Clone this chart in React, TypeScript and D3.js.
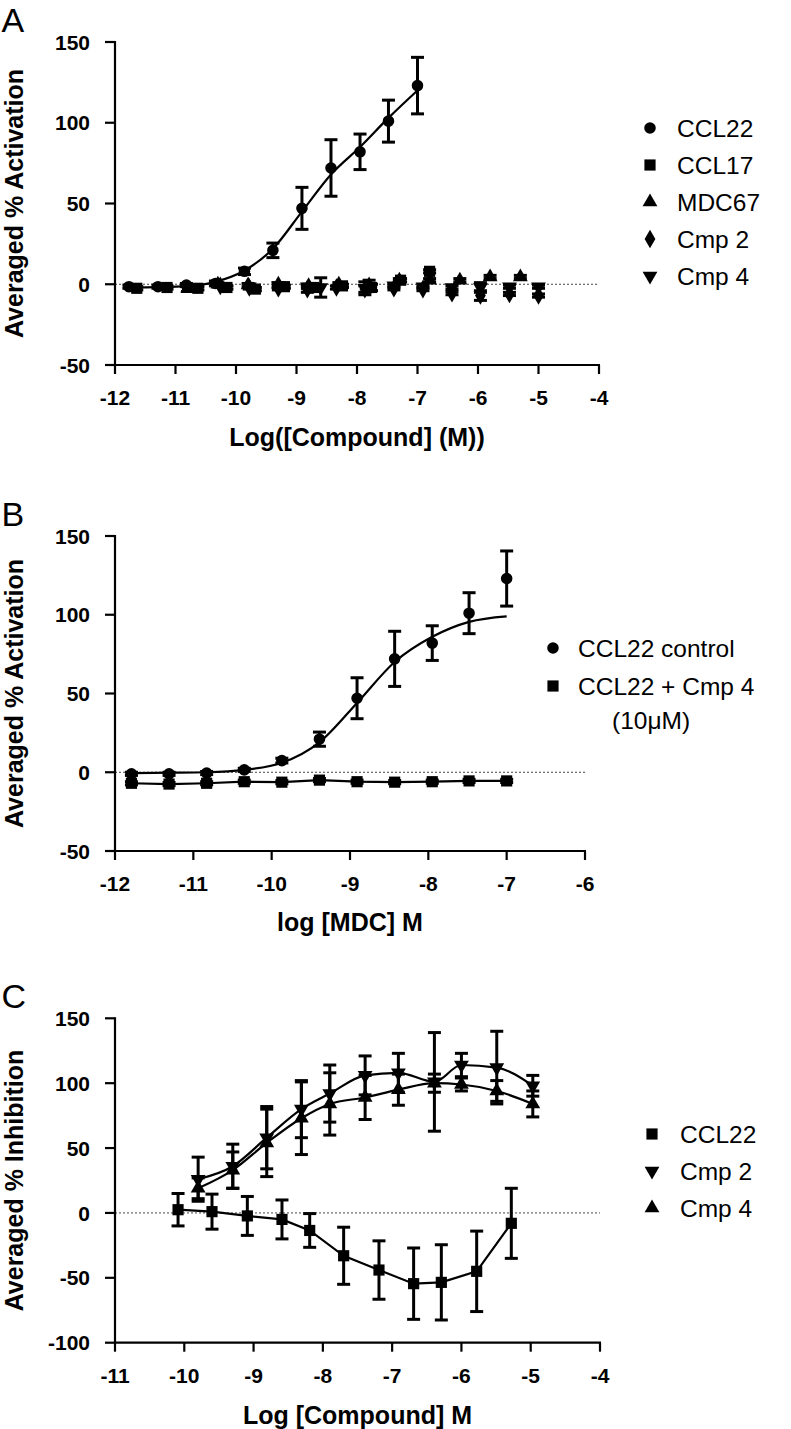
import React from 'react';
import * as d3 from 'd3';

// ---------------- Panel A data ----------------
const aTicksX = [-12, -11, -10, -9, -8, -7, -6, -5, -4];
const aTicksY = [-50, 0, 50, 100, 150];
const aCCL22X = [-11.77, -11.29, -10.82, -10.34, -9.86, -9.39, -8.91, -8.43, -7.95, -7.48, -7.0];
const aCCL22Y = [-1.5, -1.5, -0.5, 0.5, 8, 21, 47, 72, 82, 101, 123];
const aCCL22E = [1, 1, 1, 1.5, 2, 4.5, 13, 17.5, 11, 13, 17.5];
const aCCL22FitX = [-11.77, -11.29, -10.82, -10.34, -9.86, -9.39, -8.91, -8.43, -7.95, -7.48, -7.0];
const aCCL22FitY = [-2, -1.8, -1.2, 1.5, 8.5, 22, 45, 68, 85, 103, 120];
const aCCL17X = [-11.64, -11.14, -10.63, -10.15, -9.68, -9.2, -8.72, -8.24, -7.76, -7.28, -6.8];
const aCCL17Y = [-2.5, -2, -2.5, -2, -3, -1.5, -2, -1, -2, 2.5, 8];
const aCCL17E = [1, 1, 1, 1, 1, 1, 2, 1, 2, 1, 1];
const aMDC67X = [-10.8, -10.3, -9.8, -9.3, -8.8, -8.3, -7.8, -7.3, -6.8, -6.3, -5.8, -5.3];
const aMDC67Y = [-2.5, 0, -0.5, 0, -1, 0, -0.5, 2.5, 2.5, 2.5, 4.5, 4.5];
const aMDC67E = [2, 1, 1, 1, 1, 1, 3, 1, 1, 1, 1, 1];
const aCmp2X = [-10.26, -9.78, -9.3, -8.82, -8.34, -7.87, -7.39, -6.91, -6.43, -5.96, -5.48, -5.0];
const aCmp2Y = [-1, -2, -2.5, -3, -2, -3, -2.5, -3, -5.5, -7, -6, -7];
const aCmp2E = [1, 1, 1, 2, 1, 2, 1, 1, 1, 3, 1, 1];
const aCmp4X = [-9.78, -9.3, -8.82, -8.6, -7.87, -7.39, -6.91, -6.43, -5.96, -5.48, -5.0];
const aCmp4Y = [-1.5, -1, -1.5, -2, -2.5, -1, -1.5, -2, -2, -1.5, -1.5];
const aCmp4E = [1, 1, 1, 6, 4, 1, 1, 1, 3, 1, 1];

// ---------------- Panel B data ----------------
const bTicksX = [-12, -11, -10, -9, -8, -7, -6];
const bTicksY = [-50, 0, 50, 100, 150];
const bCtrlX = [-11.79, -11.31, -10.83, -10.35, -9.87, -9.39, -8.91, -8.43, -7.95, -7.48, -7.0];
const bCtrlY = [-1, -1, -0.5, 1.5, 7.4, 21, 47, 72, 82, 101, 123];
const bCtrlE = [1, 1, 1, 1, 1.5, 4.5, 13, 17.5, 11, 13, 17.5];
const bCtrlFitY = [-0.5, -0.3, 0, 1.5, 6, 19, 44, 70, 86, 95.5, 99];
const bCmp4Y = [-7, -7.5, -7, -6, -6.3, -5, -6, -6.3, -6, -5.5, -5.5];
const bCmp4E = [1, 1, 1, 1, 1, 1, 1, 1, 1, 1, 1];

// ---------------- Panel C data ----------------
const cTicksX = [-11, -10, -9, -8, -7, -6, -5, -4];
const cTicksY = [-100, -50, 0, 50, 100, 150];
const cCCL22X = [-10.09, -9.6, -9.09, -8.59, -8.19, -7.7, -7.19, -6.69, -6.29, -5.78, -5.28];
const cCCL22Y = [2.5, 1, -2.3, -5, -13.5, -33, -44, -54.5, -53.5, -45, -8];
const cCCL22E = [12.5, 13.5, 15, 15, 13, 22, 22.5, 27.5, 29, 31, 27];
const cCmpX = [-9.8, -9.3, -8.81, -8.31, -7.9, -7.39, -6.91, -6.39, -6.0, -5.49, -4.97];
const cCmp2Y = [26, 36, 58, 80, 92, 106, 108, 101, 114, 112, 98];
const cCmp2E = [17, 17, 24, 22, 22, 15, 15, 38, 9, 28, 8];
const cCmp4Y = [19, 33, 54, 73, 84, 89, 95, 100, 99, 94, 84];
const cCmp4E = [8, 14, 26, 28, 24, 17, 12, 7, 5, 8, 10];

type Sym = 'circle' | 'square' | 'triangle' | 'diamond' | 'down';
type Series = {
  name: string;
  sym: Sym;
  x: number[];
  y: number[];
  e: number[];
  line?: 'linear' | 'smooth';
  fitX?: number[];
  fitY?: number[];
};

const FONT = '"Liberation Sans", Arial, Helvetica, sans-serif';

function symPath(s: Sym): string {
  const gen = d3.symbol();
  if (s === 'circle') return gen.type(d3.symbolCircle).size(105)() as string;
  if (s === 'square') return gen.type(d3.symbolSquare).size(125)() as string;
  if (s === 'diamond') return gen.type(d3.symbolDiamond).size(100)() as string;
  return gen.type(d3.symbolTriangle).size(95)() as string;
}

function Marker({ s, cx, cy }: { s: Sym; cx: number; cy: number }) {
  const rot = s === 'down' ? ' rotate(180)' : '';
  return <path d={symPath(s)} transform={`translate(${cx},${cy})${rot}`} fill="#000" />;
}

type PanelCfg = {
  letter: string;
  letterY: number;
  left: number;
  right: number;
  top: number;
  bottom: number;
  xDomain: [number, number];
  yDomain: [number, number];
  ticksX: number[];
  ticksY: number[];
  xTitle: string;
  yTitle: string;
  xTitleY: number;
  series: Series[];
  legendX: number;
  legendY: number[];
  legendTextX: number;
  extra?: React.ReactNode;
};

function Panel({ cfg }: { cfg: PanelCfg }) {
  const x = d3.scaleLinear().domain(cfg.xDomain).range([cfg.left, cfg.right]);
  const y = d3.scaleLinear().domain(cfg.yDomain).range([cfg.bottom, cfg.top]);
  const cap = 6.5;
  return (
    <g fontFamily={FONT}>
      <text x={1.5} y={cfg.letterY} fontSize={34} fill="#000">{cfg.letter}</text>
      {/* zero dotted line */}
      <line x1={x(cfg.xDomain[0])} x2={x(cfg.xDomain[1])} y1={y(0)} y2={y(0)} stroke="#444" strokeWidth={1} strokeDasharray="2,2" />
      {/* lines */}
      {cfg.series.map((s, i) => {
        if (s.fitX && s.fitY) {
          const pts = s.fitX.map((v, k) => [v, s.fitY![k]] as [number, number]);
          const ln = d3.line<[number, number]>().x(d => x(d[0])).y(d => y(d[1])).curve(d3.curveMonotoneX);
          return <path key={'f' + i} d={ln(pts) as string} fill="none" stroke="#000" strokeWidth={2.2} />;
        }
        if (s.line) {
          const pts = s.x.map((v, k) => [v, s.y[k]] as [number, number]);
          const ln = d3.line<[number, number]>().x(d => x(d[0])).y(d => y(d[1]))
            .curve(s.line === 'smooth' ? d3.curveMonotoneX : d3.curveLinear);
          return <path key={'l' + i} d={ln(pts) as string} fill="none" stroke="#000" strokeWidth={2.2} />;
        }
        return null;
      })}
      {/* error bars */}
      {cfg.series.map((s, i) => (
        <g key={'e' + i} stroke="#000" strokeWidth={3}>
          {s.x.map((v, k) => {
            const px = x(v);
            const y1 = y(s.y[k] + s.e[k]);
            const y2 = y(s.y[k] - s.e[k]);
            return (
              <g key={k}>
                <line x1={px} x2={px} y1={y1} y2={y2} />
                <line x1={px - cap} x2={px + cap} y1={y1} y2={y1} />
                <line x1={px - cap} x2={px + cap} y1={y2} y2={y2} />
              </g>
            );
          })}
        </g>
      ))}
      {/* markers */}
      {cfg.series.map((s, i) => (
        <g key={'m' + i}>
          {s.x.map((v, k) => <Marker key={k} s={s.sym} cx={x(v)} cy={y(s.y[k])} />)}
        </g>
      ))}
      {/* axes */}
      <line x1={cfg.left} x2={cfg.left} y1={cfg.top - 1} y2={cfg.bottom + 1} stroke="#000" strokeWidth={2.2} />
      <line x1={cfg.left - 1} x2={cfg.right + 1} y1={cfg.bottom} y2={cfg.bottom} stroke="#000" strokeWidth={2.2} />
      {cfg.ticksY.map(t => (
        <g key={'ty' + t}>
          <line x1={cfg.left - 10} x2={cfg.left} y1={y(t)} y2={y(t)} stroke="#000" strokeWidth={2.2} />
          <text x={cfg.left - 25} y={y(t)} dy="0.36em" textAnchor="end" fontSize={21} fontWeight="bold" fill="#000">{t}</text>
        </g>
      ))}
      {cfg.ticksX.map(t => (
        <g key={'tx' + t}>
          <line x1={x(t)} x2={x(t)} y1={cfg.bottom} y2={cfg.bottom + 9} stroke="#000" strokeWidth={2.2} />
          <text x={x(t)} y={cfg.bottom + 40} textAnchor="middle" fontSize={21} fontWeight="bold" fill="#000">{t}</text>
        </g>
      ))}
      <text x={(cfg.left + cfg.right) / 2} y={cfg.xTitleY} textAnchor="middle" fontSize={25} fontWeight="bold" fill="#000">{cfg.xTitle}</text>
      <text transform={`translate(23,${(cfg.top + cfg.bottom) / 2}) rotate(-90)`} textAnchor="middle" fontSize={25} fontWeight="bold" fill="#000">{cfg.yTitle}</text>
      {/* legend */}
      {cfg.series.map((s, i) => (
        <g key={'lg' + i}>
          <Marker s={s.sym} cx={cfg.legendX} cy={cfg.legendY[i]} />
          <text x={cfg.legendTextX} y={cfg.legendY[i]} dy="0.36em" fontSize={24.5} fill="#000">{s.name}</text>
        </g>
      ))}
      {cfg.extra}
    </g>
  );
}

export default function App() {
  const panelA: PanelCfg = {
    letter: 'A', letterY: 32,
    left: 115, right: 599, top: 42, bottom: 365,
    xDomain: [-12, -4], yDomain: [-50, 150],
    ticksX: aTicksX, ticksY: aTicksY,
    xTitle: 'Log([Compound] (M))', yTitle: 'Averaged % Activation', xTitleY: 446,
    series: [
      { name: 'CCL22', sym: 'circle', x: aCCL22X, y: aCCL22Y, e: aCCL22E, fitX: aCCL22FitX, fitY: aCCL22FitY },
      { name: 'CCL17', sym: 'square', x: aCCL17X, y: aCCL17Y, e: aCCL17E },
      { name: 'MDC67', sym: 'triangle', x: aMDC67X, y: aMDC67Y, e: aMDC67E },
      { name: 'Cmp 2', sym: 'diamond', x: aCmp2X, y: aCmp2Y, e: aCmp2E },
      { name: 'Cmp 4', sym: 'down', x: aCmp4X, y: aCmp4Y, e: aCmp4E },
    ],
    legendX: 650, legendY: [128, 165, 202, 239, 276], legendTextX: 677,
  };
  const panelB: PanelCfg = {
    letter: 'B', letterY: 526,
    left: 115, right: 585, top: 536, bottom: 851,
    xDomain: [-12, -6], yDomain: [-50, 150],
    ticksX: bTicksX, ticksY: bTicksY,
    xTitle: 'log [MDC] M', yTitle: 'Averaged % Activation', xTitleY: 931,
    series: [
      { name: 'CCL22 control', sym: 'circle', x: bCtrlX, y: bCtrlY, e: bCtrlE, fitX: bCtrlX, fitY: bCtrlFitY },
      { name: 'CCL22 + Cmp 4', sym: 'square', x: bCtrlX, y: bCmp4Y, e: bCmp4E, line: 'linear' },
    ],
    legendX: 553, legendY: [648, 686], legendTextX: 578,
    extra: <text x={612} y={720} dy="0.36em" fontSize={24.5} fontFamily={FONT} fill="#000">(10μM)</text>,
  };
  const panelC: PanelCfg = {
    letter: 'C', letterY: 1008,
    left: 115, right: 600, top: 1018.3, bottom: 1342.7,
    xDomain: [-11, -4], yDomain: [-100, 150],
    ticksX: cTicksX, ticksY: cTicksY,
    xTitle: 'Log [Compound] M', yTitle: 'Averaged % Inhibition', xTitleY: 1424,
    series: [
      { name: 'CCL22', sym: 'square', x: cCCL22X, y: cCCL22Y, e: cCCL22E, line: 'linear' },
      { name: 'Cmp 2', sym: 'down', x: cCmpX, y: cCmp2Y, e: cCmp2E, line: 'smooth' },
      { name: 'Cmp 4', sym: 'triangle', x: cCmpX, y: cCmp4Y, e: cCmp4E, line: 'smooth' },
    ],
    legendX: 652, legendY: [1134, 1171, 1208], legendTextX: 680,
  };
  return (
    <svg width={791} height={1429} style={{ position: 'absolute', left: 0, top: 0, background: '#fff' }}>
      <rect width={791} height={1429} fill="#fff" />
      <Panel cfg={panelA} />
      <Panel cfg={panelB} />
      <Panel cfg={panelC} />
    </svg>
  );
}
